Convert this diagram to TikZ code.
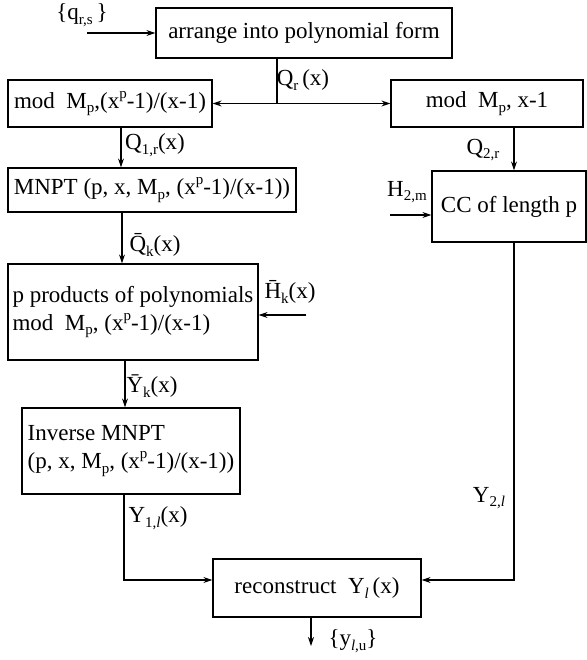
\documentclass[tikz,border=0pt]{standalone}
\usepackage{fontspec}
\setmainfont{Liberation Serif}
\usetikzlibrary{arrows.meta,calc}

\newcommand{\ovbar}[1]{\={#1}}
\newcommand{\sub}[1]{\raisebox{-0.45ex}{\fontsize{7.5}{8}\selectfont #1}}
\newcommand{\sps}[1]{\raisebox{0.95ex}{\fontsize{7.5}{8}\selectfont #1}}

\begin{document}
\begin{tikzpicture}[
    x=0.5pt, y=-0.5pt,
    >={Stealth[length=4.5pt,width=3pt]},
    font=\fontsize{11.5}{14}\selectfont,
    line width=0.55pt,
    blk/.style={draw, line width=0.65pt, inner sep=0pt, align=left},
    lbl/.style={inner sep=0pt}
]
    \useasboundingbox (0,0) rectangle (586,660);

    % --- blocks ---
    \node[blk, minimum width=148pt, minimum height=25pt] (arr) at (304,33) {arrange into polynomial form};
    \node[blk, minimum width=102pt, minimum height=23.5pt] (modL) at (110,103.5) {mod~~M\sub{p},(x\sps{p}-1)/(x-1)};
    \node[blk, minimum width=96pt, minimum height=23.5pt] (modR) at (487,103.5) {mod~~M\sub{p}, x-1};
    \node[blk, minimum width=144pt, minimum height=22pt] (mnpt) at (152,190) {MNPT (p, x, M\sub{p}, (x\sps{p}-1)/(x-1))};
    \node[blk, minimum width=125pt, minimum height=48pt] (prod) at (133,312) {p products of polynomials\\mod~~M\sub{p}, (x\sps{p}-1)/(x-1)};
    \node[blk, minimum width=109pt, minimum height=43pt] (inv) at (131,451) {Inverse MNPT\\(p, x, M\sub{p}, (x\sps{p}-1)/(x-1))};
    \node[blk, minimum width=77pt, minimum height=35.5pt] (cc) at (509,206.5) {CC of length p};
    \node[blk, minimum width=104pt, minimum height=29pt] (rec) at (317,588) {reconstruct~~Y\sub{\textit{l}}\,(x)};

    % --- free ends and bends ---
    \coordinate (qin) at (87,33);
    \coordinate (split) at (277,103.5);
    \coordinate (c1) at (121,0);
    \coordinate (c2) at (122,0);
    \coordinate (c3) at (125,0);
    \coordinate (c4) at (124,0);
    \coordinate (c5) at (514,0);
    \coordinate (join) at (0,580);
    \coordinate (hkin) at (306,315);
    \coordinate (hin) at (390,215);
    \coordinate (yout) at (311,646);

    % --- connectors ---
    \draw[->] (qin) -- (arr.west);
    \draw (arr.south -| split) -- (split);
    \draw[->] (split) -- (modL.east);
    \draw[->] (split) -- (modR.west);
    \draw[->] (modL.south -| c1) -- (mnpt.north -| c1);
    \draw[->] (mnpt.south -| c2) -- (prod.north -| c2);
    \draw[->] (hkin) -- (hkin -| prod.east);
    \draw[->] (prod.south -| c3) -- (inv.north -| c3);
    \draw[->] (inv.south -| c4) -- (c4 |- join) -- (rec.west |- join);
    \draw[->] (modR.south -| c5) -- (cc.north -| c5);
    \draw[->] (hin) -- (hin -| cc.west);
    \draw[->] (cc.south -| c5) -- (c5 |- join) -- (rec.east |- join);
    \draw[->] (rec.south -| yout) -- (yout);

    % --- signal labels ---
    \node[lbl] (lq) at (82,15) {\{q\sub{r,s}\,\}};
    \node[lbl] (lqr) at (303,80) {Q\sub{r}\,(x)};
    \node[lbl] (lq1) at (155,145) {Q\sub{1,r}(x)};
    \node[lbl] (lqk) at (155,245) {\ovbar{Q}\sub{k}(x)};
    \node[lbl] (lhk) at (290,292) {\ovbar{H}\sub{k}(x)};
    \node[lbl] (lyk) at (152,386) {\ovbar{Y}\sub{k}(x)};
    \node[lbl] (ly1) at (158,518) {Y\sub{1,\textit{l}}(x)};
    \node[lbl] (lq2) at (483,150) {Q\sub{2,r}};
    \node[lbl] (lh2) at (407,192) {H\sub{2,m}};
    \node[lbl] (ly2) at (489,498) {Y\sub{2,\textit{l}}};
    \node[lbl] (ly) at (353,641) {\{y\sub{\textit{l},u}\}};
\end{tikzpicture}
\end{document}
